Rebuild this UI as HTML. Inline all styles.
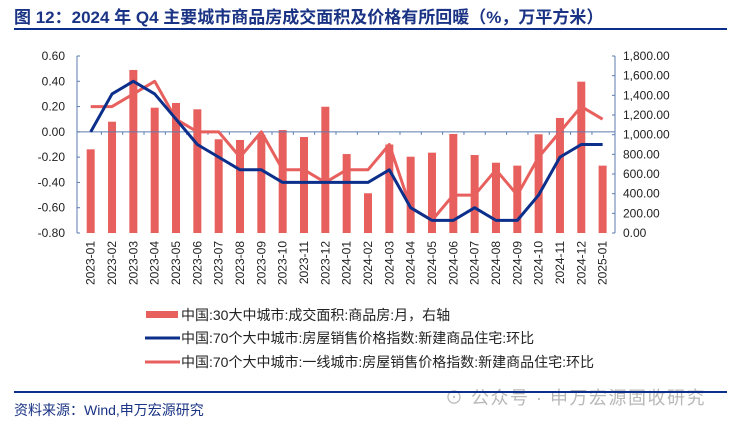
<!DOCTYPE html>
<html><head><meta charset="utf-8"><style>
body{margin:0;background:#fff;}
svg{display:block;font-family:"Liberation Sans","Noto Sans CJK SC",sans-serif;}
</style></head><body>
<svg id="c" width="741" height="426" viewBox="0 0 741 426">
<text x="14" y="23" font-size="17" font-weight="bold" fill="#1a3384">图 12：2024 年 Q4 主要城市商品房成交面积及价格有所回暖（%，万平方米）</text>
<line x1="14" y1="29" x2="727" y2="29" stroke="#0b2f8a" stroke-width="2"/>
<g id="plot"></g>
<g>
<rect x="146" y="311" width="32" height="7" fill="#e8605e"/>
<text x="181" y="320" font-size="14" fill="#222">中国:30大中城市:成交面积:商品房:月，右轴</text>
<line x1="145" y1="338" x2="180" y2="338" stroke="#0b2f8a" stroke-width="3"/>
<text x="181" y="343" font-size="14" fill="#222">中国:70个大中城市:房屋销售价格指数:新建商品住宅:环比</text>
<line x1="145" y1="362" x2="180" y2="362" stroke="#e8605e" stroke-width="3"/>
<text x="181" y="367" font-size="14" fill="#222">中国:70个大中城市:一线城市:房屋销售价格指数:新建商品住宅:环比</text>
</g>
<text x="445" y="404" font-size="18" letter-spacing="1.5" fill="#b8b8b8">⊙ 公众号 · 申万宏源固收研究</text>
<line x1="14" y1="392" x2="727" y2="392" stroke="#0b2f8a" stroke-width="2"/>
<text x="14" y="415" font-size="14" fill="#1a3384">资料来源：Wind,申万宏源研究</text>
</svg>
<script>
const categories=["2023-01","2023-02","2023-03","2023-04","2023-05","2023-06","2023-07","2023-08","2023-09","2023-10","2023-11","2023-12","2024-01","2024-02","2024-03","2024-04","2024-05","2024-06","2024-07","2024-08","2024-09","2024-10","2024-11","2024-12","2025-01"];
const areaValues=[851,1132,1658,1274,1322,1258,953,946,997,1047,976,1284,803,404,900,776,817,1007,793,715,685,1004,1170,1539,685];
const city70Values=[0.0,0.3,0.4,0.3,0.1,-0.1,-0.2,-0.3,-0.3,-0.4,-0.4,-0.4,-0.4,-0.4,-0.3,-0.6,-0.7,-0.7,-0.6,-0.7,-0.7,-0.5,-0.2,-0.1,-0.1];
const tier1Values=[0.2,0.2,0.3,0.4,0.1,0.0,0.0,-0.2,0.0,-0.3,-0.3,-0.4,-0.3,-0.3,-0.1,-0.6,-0.7,-0.5,-0.5,-0.3,-0.5,-0.2,0.0,0.2,0.1];
const leftTicks=[0.6,0.4,0.2,0.0,-0.2,-0.4,-0.6,-0.8];
const rightTicks=[1800,1600,1400,1200,1000,800,600,400,200,0];

const NS="http://www.w3.org/2000/svg";
const g=document.getElementById("plot");
const X0=77,X1=615,YT=56,YB=233;
const yL=v=>YB-(v+0.8)/1.4*(YB-YT);
const yR=v=>YB-v/1800*(YB-YT);
const xC=i=>90.7+i*21.33;
function mk(t,a){const e=document.createElementNS(NS,t);for(const k in a)e.setAttribute(k,a[k]);g.appendChild(e);return e;}
let e;
e=mk("line",{x1:X0,y1:YT,x2:X0,y2:YB,stroke:"#5b7bb0","stroke-width":1});


e=mk("line",{x1:X1,y1:YT,x2:X1,y2:YB,stroke:"#5b7bb0","stroke-width":1});


leftTicks.forEach(v=>{
 mk("line",{x1:X0,y1:yL(v),x2:X0+3,y2:yL(v),stroke:"#5b7bb0"});
 e=mk("text",{x:X0-12,y:yL(v)+4,"font-size":12,"text-anchor":"end",fill:"#222"});
 e.textContent=v.toFixed(2);
 
 
});
rightTicks.forEach(v=>{
 mk("line",{x1:X1-3,y1:yR(v),x2:X1,y2:yR(v),stroke:"#5b7bb0"});
 e=mk("text",{x:X1+8,y:yR(v)+4,"font-size":12,fill:"#222"});
 e.textContent=v.toLocaleString("en-US",{minimumFractionDigits:2});
 
 
});
areaValues.forEach((v,i)=>{
 e=mk("rect",{x:xC(i)-4,y:yR(v),width:8,height:YB-yR(v),fill:"#e8605e"});
 
 
});
e=mk("line",{x1:X0,y1:yL(0),x2:X1,y2:yL(0),stroke:"#5b7bb0","stroke-width":1});


categories.forEach((c,i)=>{
 const xt=xC(i)+10.66;
 if(i<categories.length-1)mk("line",{x1:xt,y1:yL(0),x2:xt,y2:yL(0)+3,stroke:"#5b7bb0"});
 e=mk("text",{x:0,y:0,"font-size":12,fill:"#222","text-anchor":"end",transform:`translate(${xC(i)+4},241) rotate(-90)`});
 e.textContent=c;
 
 
});
function line(vals,col,name){
 e=mk("polyline",{points:vals.map((v,i)=>xC(i)+","+yL(v)).join(" "),fill:"none",stroke:col,"stroke-width":3,"stroke-linejoin":"round"});
 
 
}
line(tier1Values,"#e8605e","line-tier1-city-price");
line(city70Values,"#0b2f8a","line-70-city-price");
</script>
</body></html>
